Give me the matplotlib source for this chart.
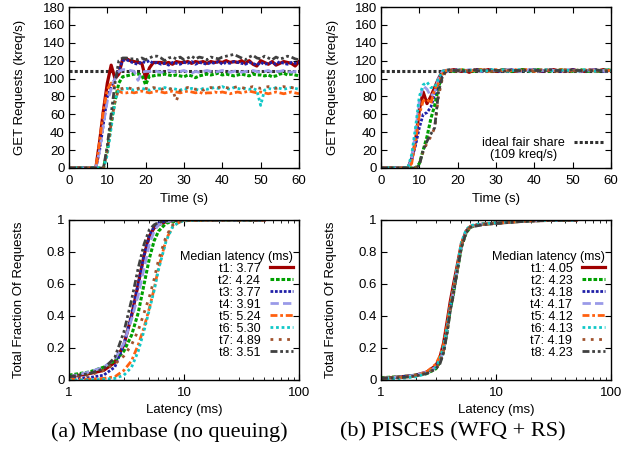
import matplotlib
matplotlib.use("Agg")
import matplotlib.pyplot as plt
from matplotlib.ticker import LogLocator, NullFormatter

plt.rcParams['font.family'] = ['Liberation Sans', 'DejaVu Sans']
plt.rcParams['font.size'] = 9.5

# ---------------- data ----------------
time_s = list(range(0, 61))
IDEAL_SHARE = 109

tenants = ["t1", "t2", "t3", "t4", "t5", "t6", "t7", "t8"]

membase_tput = {
    "t1": [0, 0, 0, 0, 0, 0, 0, 0,
           30, 65, 95, 115, 100, 105, 122, 122, 120, 119,
           118, 117, 100, 112, 118, 118, 118, 117, 118, 116,
           119, 118, 118, 119, 117, 119, 118, 119, 117, 119,
           118, 119, 118, 120, 118, 119, 118, 120, 117, 120,
           116, 114, 120, 118, 116, 119, 115, 117, 119, 118,
           117, 114, 119],
    "t2": [0, 0, 0, 0, 0, 0, 0, 0, 0, 0,
           20, 50, 75, 95, 102, 103, 104, 105,
           105, 104, 93, 103, 103, 104, 104, 105, 104, 103,
           104, 103, 102, 104, 103, 101, 103, 104, 105, 104,
           105, 106, 104, 105, 104, 103, 104, 105, 104, 103,
           105, 104, 104, 103, 104, 102, 103, 105, 106, 104,
           105, 104, 103],
    "t3": [0, 0, 0, 0, 0, 0, 0, 0,
           20, 50, 80, 90, 100, 110, 120, 121, 119, 117,
           116, 119, 118, 120, 117, 118, 116, 117, 115, 118,
           117, 116, 118, 117, 119, 116, 118, 117, 116, 118,
           117, 119, 116, 118, 117, 119, 118, 117, 116, 118,
           117, 115, 118, 116, 117, 118, 116, 119, 117, 116,
           118, 117, 118],
    "t4": [0, 0, 0, 0, 0, 0, 0, 0,
           20, 50, 75, 88, 100, 108, 110, 110, 109, 108,
           98, 107, 108, 108, 109, 108, 107, 108, 109, 108,
           107, 108, 109, 107, 106, 108, 107, 108, 109, 108,
           107, 108, 109, 108, 107, 108, 109, 107, 108, 108,
           109, 108, 107, 108, 109, 107, 108, 108, 109, 108,
           107, 108, 108],
    "t5": [0, 0, 0, 0, 0, 0, 0, 0,
           30, 65, 88, 95, 90, 86, 84, 84, 85, 84,
           85, 86, 85, 84, 85, 86, 85, 84, 85, 86,
           85, 84, 85, 86, 85, 84, 85, 83, 84, 84,
           85, 84, 85, 84, 83, 84, 85, 84, 85, 86,
           85, 84, 85, 84, 83, 84, 85, 84, 83, 84,
           85, 84, 83],
    "t6": [0, 0, 0, 0, 0, 0, 0, 0, 0, 0,
           15, 45, 75, 88, 88, 89, 88, 87,
           88, 89, 88, 87, 89, 88, 89, 90, 88, 89,
           88, 87, 89, 88, 89, 88, 87, 89, 88, 89,
           90, 89, 91, 89, 88, 90, 89, 88, 89, 88,
           89, 87, 70, 87, 89, 88, 90, 89, 88, 89,
           90, 89, 88],
    "t7": [0, 0, 0, 0, 0, 0, 0, 0, 0, 0,
           20, 50, 75, 88, 89, 90, 89, 88,
           89, 90, 89, 88, 90, 89, 88, 89, 89, 88,
           75, 87, 89, 90, 89, 88, 89, 87, 89, 90,
           89, 90, 91, 90, 89, 90, 91, 90, 89, 90,
           91, 90, 89, 90, 91, 90, 89, 90, 91, 90,
           90, 89, 90],
    "t8": [0, 0, 0, 0, 0, 0, 0, 0, 0, 0,
           25, 60, 95, 120, 123, 123, 122, 122,
           121, 123, 121, 123, 125, 125, 123, 120, 123, 124,
           122, 124, 121, 123, 125, 122, 124, 123, 121, 124,
           123, 122, 124, 125, 126, 127, 125, 123, 121, 124,
           126, 123, 122, 125, 123, 121, 124, 122, 123, 125,
           124, 122, 121],
}

pisces_tput = {
    "t1": [0, 0, 0, 0, 0, 0, 0, 0,
           10, 30, 65, 85, 72, 80, 90, 100, 108, 109,
           109, 110, 109, 108, 109, 107, 109, 110, 109, 109,
           110, 109, 108, 109, 110, 109, 109, 108, 109, 110,
           109, 109, 110, 109, 108, 109, 109, 110, 109, 109,
           108, 109, 110, 109, 109, 108, 109, 110, 109, 109,
           110, 109, 109],
    "t2": [0, 0, 0, 0, 0, 0, 0, 0, 0, 0,
           5, 20, 35, 55, 70, 90, 105, 109,
           109, 108, 109, 110, 109, 109, 108, 109, 110, 109,
           109, 108, 109, 109, 110, 109, 108, 109, 109, 110,
           109, 108, 109, 110, 109, 109, 108, 109, 109, 110,
           109, 109, 108, 109, 110, 109, 108, 109, 109, 108,
           109, 110, 109],
    "t3": [0, 0, 0, 0, 0, 0, 0, 0,
           10, 25, 45, 60, 62, 68, 82, 95, 105, 108,
           109, 109, 110, 109, 108, 109, 109, 110, 108, 109,
           109, 110, 109, 108, 109, 109, 110, 109, 108, 109,
           109, 110, 109, 109, 108, 109, 110, 109, 109, 108,
           109, 109, 110, 109, 109, 108, 109, 109, 110, 109,
           108, 109, 109],
    "t4": [0, 0, 0, 0, 0, 0, 0, 0,
           10, 40, 75, 92, 88, 80, 85, 100, 108, 109,
           110, 109, 109, 108, 109, 110, 109, 109, 108, 109,
           110, 109, 109, 108, 109, 110, 109, 109, 108, 109,
           109, 110, 109, 108, 109, 109, 110, 109, 109, 108,
           109, 110, 109, 109, 108, 109, 109, 110, 109, 109,
           109, 108, 109],
    "t5": [0, 0, 0, 0, 0, 0, 0, 0,
           5, 30, 60, 75, 77, 72, 88, 95, 105, 109,
           109, 108, 109, 110, 109, 108, 109, 109, 110, 109,
           108, 109, 110, 109, 109, 108, 109, 110, 109, 109,
           110, 109, 108, 109, 109, 110, 109, 108, 109, 110,
           109, 109, 108, 109, 109, 110, 109, 109, 108, 109,
           110, 109, 109],
    "t6": [0, 0, 0, 0, 0, 0, 0, 0,
           15, 45, 80, 93, 96, 90, 90, 100, 108, 110,
           109, 109, 110, 109, 108, 109, 110, 109, 109, 108,
           109, 110, 109, 109, 110, 108, 109, 109, 110, 109,
           109, 108, 110, 109, 109, 110, 109, 108, 109, 109,
           110, 109, 109, 108, 109, 110, 109, 109, 108, 109,
           109, 110, 109],
    "t7": [0, 0, 0, 0, 0, 0, 0, 0, 0, 0,
           5, 18, 28, 35, 45, 80, 100, 109,
           109, 110, 109, 109, 108, 109, 110, 109, 109, 110,
           109, 108, 109, 109, 110, 109, 109, 108, 109, 110,
           109, 109, 108, 109, 110, 109, 109, 109, 108, 109,
           110, 109, 109, 108, 109, 109, 110, 109, 109, 108,
           109, 109, 110],
    "t8": [0, 0, 0, 0, 0, 0, 0, 0, 0, 0,
           3, 20, 30, 38, 45, 85, 102, 109,
           110, 109, 109, 108, 109, 109, 110, 109, 108, 109,
           109, 110, 109, 109, 108, 109, 110, 109, 109, 108,
           110, 109, 109, 109, 108, 109, 110, 109, 109, 109,
           108, 109, 110, 109, 109, 108, 109, 109, 110, 109,
           109, 108, 109],
}

# latency CDFs (ms -> fraction)
membase_lat_ms = [1, 1.5, 2, 2.5, 3, 3.5, 4, 4.5, 5, 5.5, 6, 7, 8, 9, 10, 15, 20, 50]
membase_cdf = {
    "t1": [0.02, 0.04, 0.06, 0.11, 0.22, 0.40, 0.60, 0.78, 0.90, 0.95, 0.97, 0.99, 0.995, 0.998, 1.0, 1.0, 1.0, 1.0],
    "t2": [0.03, 0.05, 0.08, 0.12, 0.18, 0.28, 0.42, 0.60, 0.76, 0.87, 0.93, 0.98, 0.99, 0.995, 0.998, 1.0, 1.0, 1.0],
    "t3": [0.01, 0.015, 0.03, 0.08, 0.22, 0.41, 0.60, 0.78, 0.90, 0.96, 0.98, 0.995, 0.998, 1.0, 1.0, 1.0, 1.0, 1.0],
    "t4": [0.02, 0.05, 0.08, 0.13, 0.23, 0.38, 0.53, 0.70, 0.85, 0.93, 0.97, 0.99, 0.995, 0.998, 1.0, 1.0, 1.0, 1.0],
    "t5": [0.005, 0.005, 0.01, 0.02, 0.06, 0.12, 0.22, 0.33, 0.45, 0.57, 0.70, 0.88, 0.96, 0.985, 0.995, 1.0, 1.0, 1.0],
    "t6": [0.0, 0.0, 0.005, 0.01, 0.03, 0.08, 0.18, 0.31, 0.44, 0.56, 0.69, 0.87, 0.96, 0.985, 0.995, 1.0, 1.0, 1.0],
    "t7": [0.02, 0.03, 0.06, 0.10, 0.15, 0.22, 0.31, 0.42, 0.52, 0.63, 0.75, 0.90, 0.97, 0.99, 0.997, 1.0, 1.0, 1.0],
    "t8": [0.02, 0.04, 0.07, 0.14, 0.30, 0.50, 0.70, 0.85, 0.94, 0.97, 0.985, 0.995, 1.0, 1.0, 1.0, 1.0, 1.0, 1.0],
}
membase_median = ["3.77", "4.24", "3.77", "3.91", "5.24", "5.30", "4.89", "3.51"]

pisces_lat_ms = [1, 1.5, 2, 2.5, 3, 3.25, 3.5, 3.75, 4, 4.25, 4.5, 5, 5.5, 6, 7, 8, 10, 15, 20, 30, 50]
pisces_cdf = {
    "t1": [0.01, 0.02, 0.03, 0.05, 0.09, 0.14, 0.23, 0.36, 0.49, 0.59, 0.68, 0.85, 0.93, 0.96, 0.97, 0.975, 0.98, 0.99, 0.995, 0.998, 1.0],
    "t2": [0.015, 0.02, 0.03, 0.04, 0.07, 0.11, 0.18, 0.30, 0.44, 0.53, 0.64, 0.83, 0.92, 0.955, 0.97, 0.975, 0.98, 0.99, 0.995, 0.998, 1.0],
    "t3": [0.01, 0.02, 0.03, 0.045, 0.08, 0.12, 0.19, 0.31, 0.45, 0.54, 0.65, 0.84, 0.93, 0.96, 0.97, 0.975, 0.98, 0.99, 0.995, 0.998, 1.0],
    "t4": [0.01, 0.02, 0.03, 0.05, 0.08, 0.12, 0.19, 0.31, 0.45, 0.55, 0.65, 0.84, 0.93, 0.96, 0.97, 0.975, 0.98, 0.99, 0.995, 0.998, 1.0],
    "t5": [0.01, 0.015, 0.025, 0.05, 0.10, 0.15, 0.22, 0.34, 0.47, 0.56, 0.66, 0.85, 0.93, 0.96, 0.97, 0.975, 0.98, 0.99, 0.995, 0.998, 1.0],
    "t6": [0.005, 0.01, 0.02, 0.04, 0.08, 0.13, 0.21, 0.33, 0.46, 0.56, 0.67, 0.86, 0.94, 0.965, 0.975, 0.978, 0.982, 0.99, 0.995, 0.998, 1.0],
    "t7": [0.01, 0.02, 0.03, 0.045, 0.07, 0.11, 0.18, 0.30, 0.44, 0.54, 0.65, 0.84, 0.93, 0.96, 0.97, 0.975, 0.98, 0.99, 0.995, 0.998, 1.0],
    "t8": [0.01, 0.015, 0.025, 0.04, 0.07, 0.10, 0.17, 0.29, 0.43, 0.53, 0.64, 0.83, 0.92, 0.955, 0.965, 0.972, 0.978, 0.988, 0.994, 0.998, 1.0],
}
pisces_median = ["4.05", "4.23", "4.18", "4.17", "4.12", "4.13", "4.19", "4.23"]

# ---------------- styles ----------------
colors = {"t1": "#a00000", "t2": "#00a000", "t3": "#2020a8", "t4": "#9a9ae8",
          "t5": "#ff6010", "t6": "#10c8c8", "t7": "#a0522d", "t8": "#404040"}
styles = {"t1": "-", "t2": (0, (1.2, 0.6)), "t3": (0, (1, 0.6)), "t4": (0, (3, 1.5)),
          "t5": (0, (2.5, 1, 1, 1)), "t6": (0, (1, 1)), "t7": (0, (1, 2)), "t8": (0, (2.5, 1, 1, 1, 1, 1))}
widths = {"t1": 2.3, "t2": 2.2, "t3": 2.0, "t4": 2.0, "t5": 2.0, "t6": 2.0, "t7": 2.0, "t8": 2.0}

W, H = 637, 455
fig = plt.figure(figsize=(W / 100, H / 100), dpi=100)


def px_axes(x0, y0, x1, y1):
    return fig.add_axes([x0 / W, 1 - y1 / H, (x1 - x0) / W, (y1 - y0) / H])


def style_axes(ax):
    ax.tick_params(direction="in", top=True, right=True, length=4, width=0.8, labelsize=9.5)
    ax.tick_params(axis="x", pad=5)
    ax.tick_params(axis="y", pad=3)
    ax.tick_params(which="minor", direction="in", top=True, right=True, length=2, width=0.6)
    for s in ax.spines.values():
        s.set_linewidth(1.0)


ax_tl = px_axes(69, 7, 299, 168)
ax_tr = px_axes(381, 7, 611, 168)
ax_bl = px_axes(69, 220, 299, 380)
ax_br = px_axes(381, 220, 611, 380)

ylab_x = {id(ax_tl): (26 - 69) / 230, id(ax_tr): (339 - 381) / 230,
          id(ax_bl): (25 - 69) / 230, id(ax_br): (337 - 381) / 230}

for ax, data in ((ax_tl, membase_tput), (ax_tr, pisces_tput)):
    ideal = ax.axhline(IDEAL_SHARE, color="#303030", linestyle=(0, (1, 0.7)), linewidth=2.2, zorder=1)
    for t in tenants:
        ax.plot(time_s, data[t], color=colors[t], linestyle=styles[t], linewidth=widths[t], zorder=2)
    ax.set_xlim(0, 60)
    ax.set_ylim(0, 180)
    ax.set_xticks(range(0, 61, 10))
    ax.set_yticks(range(0, 181, 20))
    ax.set_xlabel("Time (s)", fontsize=9.5)
    ax.set_ylabel("GET Requests (kreq/s)", fontsize=9.5)
    ax.xaxis.set_label_coords(0.5, (168 - 193) / 161)
    ax.yaxis.set_label_coords(ylab_x[id(ax)], 0.5)
    style_axes(ax)

# fair-share key: first line with the sample, second line centred below
ax_tr.legend([ideal], ["ideal fair share"], loc="center right",
             bbox_to_anchor=((604 - 381) / 230, (168 - 143) / 161), frameon=False,
             markerfirst=False, handlelength=2.4, handletextpad=0.7, fontsize=9,
             borderaxespad=0, borderpad=0)
ax_tr.text((524 - 381) / 230, (168 - 155) / 161, "(109 kreq/s)", transform=ax_tr.transAxes,
           ha="center", va="center", fontsize=9)

for ax, lat, cdf, med in ((ax_bl, membase_lat_ms, membase_cdf, membase_median),
                          (ax_br, pisces_lat_ms, pisces_cdf, pisces_median)):
    handles = []
    for t in tenants:
        h, = ax.plot(lat, cdf[t], color=colors[t], linestyle=styles[t], linewidth=widths[t])
        handles.append(h)
    ax.set_xscale("log")
    ax.set_xlim(1, 100)
    ax.set_ylim(0, 1)
    ax.set_xticks([1, 10, 100])
    ax.set_xticklabels(["1", "10", "100"])
    ax.xaxis.set_minor_locator(LogLocator(base=10, subs=range(2, 10)))
    ax.xaxis.set_minor_formatter(NullFormatter())
    ax.set_yticks([0, 0.2, 0.4, 0.6, 0.8, 1])
    ax.set_yticklabels(["0", "0.2", "0.4", "0.6", "0.8", "1"])
    ax.set_xlabel("Latency (ms)", fontsize=9.5)
    ax.set_ylabel("Total Fraction Of Requests", fontsize=9.5)
    ax.xaxis.set_label_coords(0.5, (380 - 404) / 160)
    ax.yaxis.set_label_coords(ylab_x[id(ax)], 0.5)
    style_axes(ax)
    labels = [f"{t}: {m}" for t, m in zip(tenants, med)]
    ax.legend(handles, labels, title="Median latency (ms)", loc="upper right",
              bbox_to_anchor=(0.995, 0.84), frameon=False, markerfirst=False,
              handlelength=1.8, handletextpad=0.8, labelspacing=0.0,
              fontsize=9, title_fontsize=9, alignment="right", borderaxespad=0.2,
              borderpad=0.2)

fig.text(169 / W, 1 - 432 / H, "(a) Membase (no queuing)", ha="center", va="center",
         fontsize=16, family=["Liberation Serif", "DejaVu Serif"])
fig.text(453 / W, 1 - 432 / H, "(b) PISCES (WFQ + RS)", ha="center", va="center",
         fontsize=16, family=["Liberation Serif", "DejaVu Serif"])

fig.savefig("out.png", dpi=100)
